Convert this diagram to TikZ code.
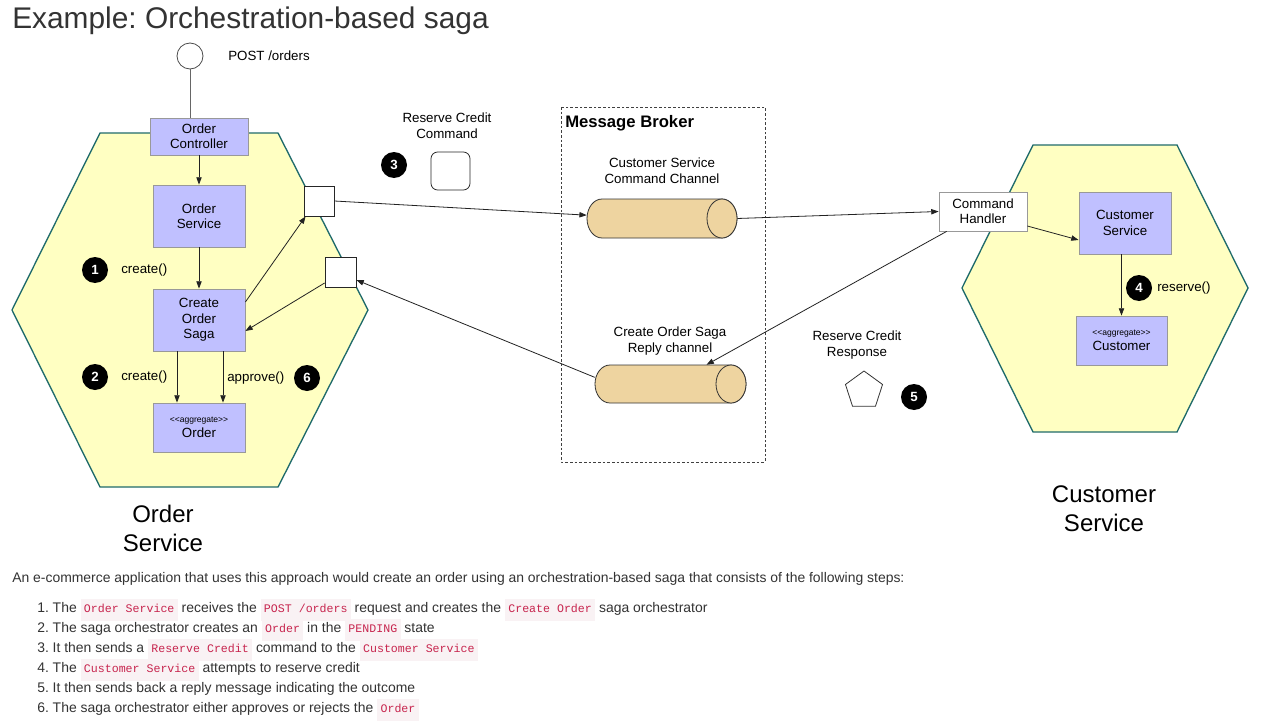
\documentclass[tikz,border=0pt]{standalone}
\usepackage{fontspec}
\setmainfont{Liberation Sans}
\newfontfamily\monof{Liberation Mono}
\usetikzlibrary{arrows.meta,shapes.geometric,calc}
\frenchspacing
\definecolor{lav}{HTML}{C0C0FF}
\definecolor{boxline}{HTML}{999999}
\definecolor{hexy}{HTML}{FFFFC2}
\definecolor{hexline}{HTML}{1F6B6B}
\definecolor{tan}{HTML}{EED4A0}
\definecolor{linec}{HTML}{222222}
\definecolor{txt}{HTML}{333333}
\definecolor{codebg}{HTML}{F9F2F4}
\definecolor{codefg}{HTML}{C7254E}
\newcommand\ic[1]{{\setlength\fboxsep{1.5pt}\colorbox{codebg}{\rule[-4.5pt]{0pt}{13.5pt}\hspace{1pt}\textcolor{codefg}{\monof\fontsize{8.7}{10}\selectfont #1}\hspace{1pt}}}}
\begin{document}
\begin{tikzpicture}[x=0.75pt,y=-0.75pt,
  lavbox/.style={draw=boxline, fill=lav, align=center, inner sep=0pt, line width=0.6pt,
    font=\fontsize{10}{11.5}\selectfont},
  badge/.style={circle, fill=black, text=white, font=\bfseries\fontsize{10}{10}\selectfont,
    minimum size=19.5pt, inner sep=0pt},
  lbl/.style={inner sep=0pt, align=center, font=\fontsize{10}{12}\selectfont, text=black},
  conn/.style={draw=linec, line width=0.6pt},
  arr/.style={conn, -{Triangle[length=5.5pt,width=4pt]}},
  sqbox/.style={draw=black!85, fill=white, inner sep=0pt, line width=0.6pt},
  hex/.style={draw=hexline, fill=hexy, line width=1pt},
  cylf/.style={draw=black!80, fill=tan, line width=0.6pt},
  big/.style={inner sep=0pt, align=center, font=\fontsize{18}{21.75}\selectfont, text=black},
  body/.style={inner sep=0pt, anchor=base west, font=\fontsize{10.45}{12}\selectfont, text=txt}
]
\fill[white] (0,0) rectangle (1283,721);
\useasboundingbox (0,0) rectangle (1283,721);

% title
\node[inner sep=0pt, anchor=base west, text=txt, font=\fontsize{22.4}{26}\selectfont] (title) at (12,28) {Example: Orchestration-based saga};

% hexagons
\path[hex] (100,133) -- (278,133) -- (368,310) -- (278,487) -- (100,487) -- (12,310) -- cycle;
\path[hex] (1033,145) -- (1177,145) -- (1248,288) -- (1177,432) -- (1033,432) -- (962,288) -- cycle;

% message broker
\draw[draw=black!75, line width=0.6pt, dash pattern=on 2pt off 1.5pt] (561,107) rectangle (765,462);
\node[inner sep=0pt, anchor=west, font=\bfseries\fontsize{12.5}{14}\selectfont] (mb) at (565,123) {Message Broker};

% order service side
\node[circle, draw=black!70, fill=white, minimum size=19.5pt, inner sep=0pt, line width=0.6pt] (post) at (190,56) {};
\node[lbl, anchor=west] (postl) at (228,56) {POST /orders};
\node[lavbox, minimum width=73.5pt, minimum height=27.75pt] (oc) at (199,136.5) {Order\\Controller};
\node[lavbox, minimum width=69pt, minimum height=46.5pt] (os) at (199,216) {Order\\Service};
\node[lavbox, minimum width=69pt, minimum height=46.5pt] (saga) at (199,320) {Create\\Order\\Saga};
\node[lavbox, minimum width=69pt, minimum height=36.75pt] (ord) at (199,427.5) {{\fontsize{6.4}{7.5}\selectfont <{}<aggregate>{}>}\\Order};
\node[sqbox, minimum width=22.5pt, minimum height=22.5pt] (sq1) at (319,201) {};
\node[sqbox, minimum width=23.25pt, minimum height=22.5pt] (sq2) at (340.5,272) {};

\node[badge] (b1) at (95,270) {1};
\node[lbl, anchor=west] (l1) at (121,270) {create()};
\node[badge] (b2) at (95,377) {2};
\node[lbl, anchor=west] (l2) at (121,377) {create()};
\node[lbl, anchor=west] (l6) at (227,378) {approve()};
\node[badge] (b6) at (307,378) {6};

% reserve credit command
\node[lbl] (rcc) at (447,126) {Reserve Credit\\Command};
\node[badge] (b3) at (394,165) {3};
\node[draw=black!85, fill=white, rounded corners=5pt, minimum width=29.25pt, minimum height=28.5pt, inner sep=0pt, line width=0.6pt] (cmd) at (450.5,171) {};

% cylinders
\node[lbl] (c1l) at (662,171) {Customer Service\\Command Channel};
\node[minimum width=112.5pt, minimum height=29.25pt, inner sep=0pt] (c1) at (662,218.5) {};
\path[cylf] (602,199) -- (722,199) arc[start angle=-90,end angle=90,x radius=15,y radius=19.5] -- (602,238) arc[start angle=90,end angle=270,x radius=15,y radius=19.5] -- cycle;
\path[cylf] (722,218.5) ellipse[x radius=15,y radius=19.5];

\node[lbl] (c2l) at (670,341) {Create Order Saga\\Reply channel};
\node[minimum width=113.25pt, minimum height=28.5pt, inner sep=0pt] (c2) at (670.5,384) {};
\path[cylf] (610,365) -- (731,365) arc[start angle=-90,end angle=90,x radius=15,y radius=19] -- (610,403) arc[start angle=90,end angle=270,x radius=15,y radius=19] -- cycle;
\path[cylf] (731,384) ellipse[x radius=15,y radius=19];

% customer side
\node[draw=boxline, fill=white, align=center, inner sep=0pt, line width=0.6pt, font=\fontsize{10}{11.5}\selectfont, minimum width=66pt, minimum height=29.25pt] (ch) at (983,211.5) {Command\\Handler};
\node[lavbox, minimum width=69pt, minimum height=46.5pt] (cs) at (1125,223) {Customer\\Service};
\node[lavbox, minimum width=68.25pt, minimum height=36.75pt] (cust) at (1121.5,340.5) {{\fontsize{6.4}{7.5}\selectfont <{}<aggregate>{}>}\\Customer};
\node[badge] (b4) at (1139,288) {4};
\node[lbl, anchor=west] (l4) at (1157,288) {reserve()};

\node[lbl] (rcr) at (857,345) {Reserve Credit\\Response};
\node[regular polygon, regular polygon sides=5, draw=black!80, fill=white, minimum size=29.25pt, inner sep=0pt, line width=0.6pt] (pent) at (864,390.5) {};
\node[badge] (b5) at (914,397) {5};

% big labels
\node[big] (osl) at (163,528.5) {Order\\Service};
\node[big] (csl) at (1104,508.5) {Customer\\Service};

% connectors
\draw[conn, draw=black!60] (post.south) -- (post.south |- oc.north);
\draw[arr] (oc) -- (os);
\draw[arr] (os) -- (saga);
\draw[arr] ([xshift=-16.5pt]saga.south) -- ([xshift=-16.5pt]ord.north);
\draw[arr] ([xshift=18pt]saga.south) -- ([xshift=18pt]ord.north);
\draw[arr] ([yshift=13.5pt]saga.east) -- ([xshift=1.5pt]sq1.south west);
\draw[arr] ([yshift=-8.25pt]sq2.west) -- ([yshift=-8.25pt]saga.east);
\draw[arr] (sq1.east) -- ([yshift=2.5pt]c1.west);
\draw[arr] (c1.east) -- (ch.west);
\draw[arr] ([yshift=-10.9pt]ch.east) -- ([yshift=-12.75pt]cs.west);
\draw[arr] (cust.north |- cs.south) -- (cust.north);
\draw[arr] ([xshift=6pt]ch.south west) -- ([xshift=27pt]c2.north);
\draw[arr] ([yshift=5pt]c2.west) -- ([yshift=-6pt]sq2.east);

% text below
\node[body] (p0) at (12,582.5) {An e-commerce application that uses this approach would create an order using an orchestration-based saga that consists of the following steps:};
\node[body] (i1) at (37,612.5) {1. The \ic{Order Service} receives the \ic{POST /orders} request and creates the \ic{Create Order} saga orchestrator};
\node[body] (i2) at (37,632.5) {2. The saga orchestrator creates an \ic{Order} in the \ic{PENDING} state};
\node[body] (i3) at (37,652.5) {3. It then sends a \ic{Reserve Credit} command to the \ic{Customer Service}};
\node[body] (i4) at (37,672.5) {4. The \ic{Customer Service} attempts to reserve credit};
\node[body] (i5) at (37,692.5) {5. It then sends back a reply message indicating the outcome};
\node[body] (i6) at (37,712.5) {6. The saga orchestrator either approves or rejects the \ic{Order}};
\end{tikzpicture}
\end{document}
